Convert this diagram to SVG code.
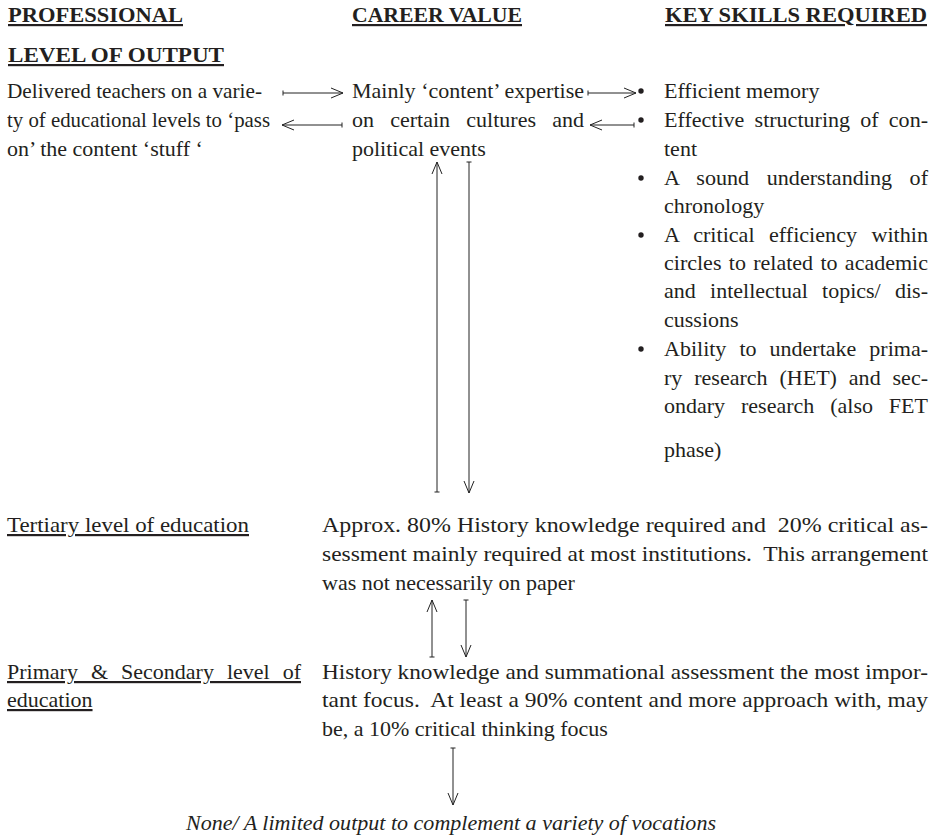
<svg xmlns="http://www.w3.org/2000/svg" width="935" height="839" viewBox="0 0 935 839">
<defs>
<marker id="head" markerUnits="userSpaceOnUse" markerWidth="14" markerHeight="12" refX="12" refY="5" orient="auto" overflow="visible">
<path d="M0,0 L12,5 L0,10" fill="none" stroke="#222" stroke-width="1"/>
</marker>
<marker id="tick" markerUnits="userSpaceOnUse" markerWidth="4" markerHeight="8" refX="0" refY="0" orient="auto" overflow="visible">
<path d="M0,-2.5 L0,2.5" fill="none" stroke="#222" stroke-width="1"/>
</marker>
<style>
text{font-family:"Liberation Serif","Times New Roman",serif;font-size:22px;fill:#231f20;white-space:pre}
.h{font-weight:bold;font-size:22px;text-decoration:underline}
.u{text-decoration:underline}
.i{font-style:italic}
.b{fill:#231f20}
.c{stroke:#222;stroke-width:1;fill:none;marker-end:url(#head);marker-start:url(#tick)}
</style>
</defs>
<rect width="935" height="839" fill="#fff"/>
<g id="headers">
<text class="h" x="8" y="22" textLength="175" lengthAdjust="spacingAndGlyphs">PROFESSIONAL</text>
<text class="h" x="352" y="22" textLength="170" lengthAdjust="spacingAndGlyphs">CAREER VALUE</text>
<text class="h" x="665" y="22" textLength="262" lengthAdjust="spacingAndGlyphs">KEY SKILLS REQUIRED</text>
<text class="h" x="8" y="62" textLength="216" lengthAdjust="spacingAndGlyphs">LEVEL OF OUTPUT</text>
</g>
<g id="output-teachers">
<text x="7" y="98" textLength="255" lengthAdjust="spacingAndGlyphs">Delivered teachers on a varie-</text>
<text x="7" y="127" textLength="263" lengthAdjust="spacingAndGlyphs">ty of educational levels to ‘pass</text>
<text x="7" y="156">on’ the content ‘stuff ‘</text>
</g>
<g id="career-content">
<text x="352" y="98" textLength="232" lengthAdjust="spacingAndGlyphs">Mainly ‘content’ expertise</text>
<text x="352" y="127" style="word-spacing:10.7px" textLength="232" lengthAdjust="spacingAndGlyphs">on certain cultures and</text>
<text x="352" y="156">political events</text>
</g>
<g id="key-skills">
<circle class="b" cx="641" cy="91" r="2.7"/>
<circle class="b" cx="641" cy="120" r="2.7"/>
<circle class="b" cx="641" cy="178" r="2.7"/>
<circle class="b" cx="641" cy="235" r="2.7"/>
<circle class="b" cx="641" cy="349" r="2.7"/>
<text x="664" y="98">Efficient memory</text>
<text x="664" y="127" style="word-spacing:4.7px" textLength="264" lengthAdjust="spacingAndGlyphs">Effective structuring of con-</text>
<text x="664" y="156">tent</text>
<text x="664" y="185" style="word-spacing:12px" textLength="264" lengthAdjust="spacingAndGlyphs">A sound understanding of</text>
<text x="664" y="213">chronology</text>
<text x="664" y="242" style="word-spacing:8.8px" textLength="264" lengthAdjust="spacingAndGlyphs">A critical efficiency within</text>
<text x="664" y="270" style="word-spacing:1.8px" textLength="264" lengthAdjust="spacingAndGlyphs">circles to related to academic</text>
<text x="664" y="298" style="word-spacing:8.8px" textLength="264" lengthAdjust="spacingAndGlyphs">and intellectual topics/ dis-</text>
<text x="664" y="327">cussions</text>
<text x="664" y="356" style="word-spacing:7.5px" textLength="264" lengthAdjust="spacingAndGlyphs">Ability to undertake prima-</text>
<text x="664" y="385" style="word-spacing:6.4px" textLength="264" lengthAdjust="spacingAndGlyphs">ry research (HET) and sec-</text>
<text x="664" y="413" style="word-spacing:10.4px" textLength="264" lengthAdjust="spacingAndGlyphs">ondary research (also FET</text>
<text x="664" y="457">phase)</text>
</g>
<g id="tertiary-label">
<text class="u" x="7" y="532" textLength="242" lengthAdjust="spacingAndGlyphs">Tertiary level of education</text>
</g>
<g id="tertiary-value">
<text x="322" y="532" textLength="606" lengthAdjust="spacingAndGlyphs">Approx. 80% History knowledge required and  20% critical as-</text>
<text x="322" y="561" textLength="606" lengthAdjust="spacingAndGlyphs">sessment mainly required at most institutions.  This arrangement</text>
<text x="322" y="590">was not necessarily on paper</text>
</g>
<g id="primary-label">
<text class="u" x="7" y="679" style="word-spacing:7.5px" textLength="294" lengthAdjust="spacingAndGlyphs">Primary &amp; Secondary level of</text>
<text class="u" x="7" y="707">education</text>
</g>
<g id="primary-value">
<text x="322" y="679" textLength="606" lengthAdjust="spacingAndGlyphs">History knowledge and summational assessment the most impor-</text>
<text x="322" y="707" textLength="606" lengthAdjust="spacingAndGlyphs">tant focus.  At least a 90% content and more approach with, may</text>
<text x="322" y="736">be, a 10% critical thinking focus</text>
</g>
<g id="outcome">
<text class="i" x="186" y="830" textLength="530" lengthAdjust="spacingAndGlyphs">None/ A limited output to complement a variety of vocations</text>
</g>
<g id="connectors">
<path class="c" d="M283,93 L343,93"/>
<path class="c" d="M342,125 L282,125"/>
<path class="c" d="M588,93 L636,93"/>
<path class="c" d="M634,125 L590,125"/>
<path class="c" d="M437,492 L437,162"/>
<path class="c" d="M469,162 L469,493"/>
<path class="c" d="M432,657 L432,600"/>
<path class="c" d="M466,600 L466,657"/>
<path class="c" d="M453,748 L453,805"/>
</g>
</svg>
